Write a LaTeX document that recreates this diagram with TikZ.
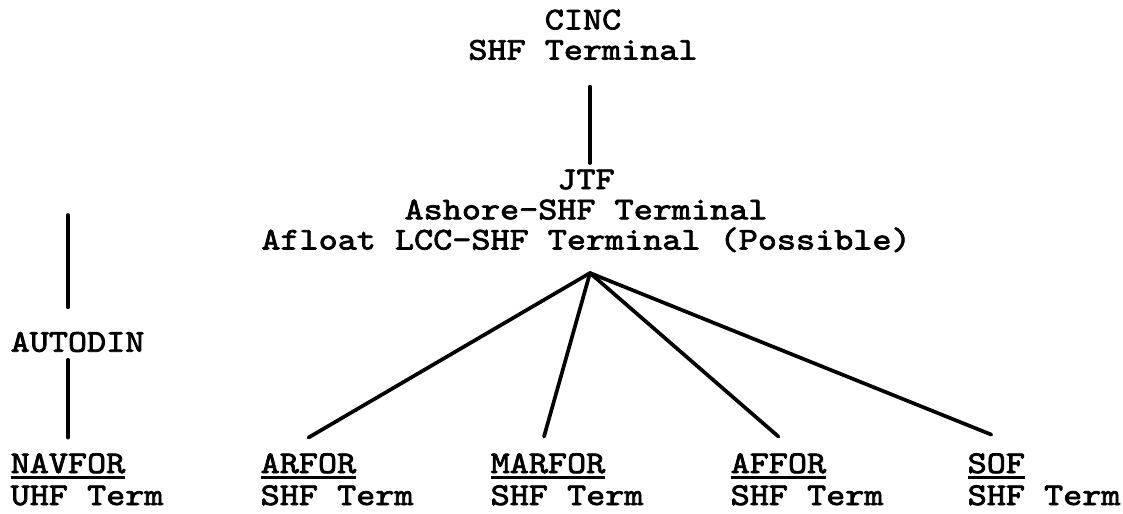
\documentclass[tikz,border=0pt]{standalone}
\usepackage{fontspec}
\usepackage{tikz}
\usetikzlibrary{positioning}

% bold typewriter face
\newfontfamily\twfont{lmmono10-regular.otf}[FakeBold=2.4, FakeStretch=1.15]
% underlined unit name
\newcommand{\ulname}[1]{\setbox0\hbox{#1}\rlap{\rule[-1.7pt]{\wd0}{0.8pt}}\box0}

\begin{document}
\begin{tikzpicture}[
    cmdnode/.style={
        inner sep=0pt, anchor=north, align=center,
        font=\twfont\fontsize{9pt}{8.6pt}\selectfont
    },
    unitnode/.style={
        inner sep=0pt, anchor=base west,
        font=\twfont\fontsize{9pt}{9pt}\selectfont
    },
    link/.style={line width=1.05pt, line cap=round}
]
\useasboundingbox (0,0) rectangle (11.23,-5.13);

% Command chain (top)
\node[cmdnode] (cinc) at (5.83,-0.09) {CINC\\SHF Terminal};
\node[cmdnode] (jtf)  at (5.86,-1.69) {JTF\\Ashore-SHF Terminal\\Afloat LCC-SHF Terminal (Possible)};
\coordinate (apex) at (5.90,-2.73);

\draw[link, shorten <=0.26cm, shorten >=0.06cm] (cinc.south -| apex) -- (jtf.north -| apex);

% Component units (bottom row)
\node[unitnode] (navfor) at (0.10,-4.73) {\ulname{NAVFOR}};
\node[unitnode] (arfor)  at (2.60,-4.73) {\ulname{ARFOR}};
\node[unitnode] (marfor) at (4.90,-4.73) {\ulname{MARFOR}};
\node[unitnode] (affor)  at (7.30,-4.73) {\ulname{AFFOR}};
\node[unitnode] (sof)    at (9.67,-4.73) {\ulname{SOF}};

\node[unitnode, below=3.2mm of navfor.base west, anchor=base west] (navterm) {UHF Term};
\node[unitnode, below=3.2mm of arfor.base west, anchor=base west]  (arterm)  {SHF Term};
\node[unitnode, below=3.2mm of marfor.base west, anchor=base west] (marterm) {SHF Term};
\node[unitnode, below=3.2mm of affor.base west, anchor=base west]  (afterm)  {SHF Term};
\node[unitnode, below=3.2mm of sof.base west, anchor=base west]    (softerm) {SHF Term};

% JTF to the components
\draw[link] (apex) -- ([yshift=1.5mm]arfor.north);
\draw[link] (apex) -- ([xshift=-0.4mm,yshift=1.6mm]marfor.north);
\draw[link] (apex) -- ([yshift=1.6mm]affor.north);
\draw[link] (apex) -- ([xshift=-0.5mm,yshift=1.8mm]sof.north);

% AUTODIN link to NAVFOR
\node[unitnode, anchor=west] (autodin) at (0.10,-3.42) {AUTODIN};
\coordinate (navtop) at (0.68,-2.15);

\draw[link, shorten >=0.24cm] (navtop) -- (autodin.north -| navtop);
\draw[link, shorten <=0.07cm, shorten >=0.15cm] (autodin.south -| navtop) -- (navfor.north -| navtop);
\end{tikzpicture}
\end{document}
